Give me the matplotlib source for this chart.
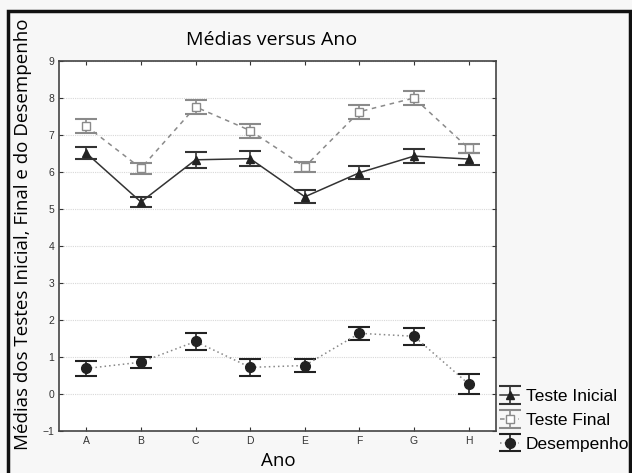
import matplotlib
matplotlib.use("Agg")
import matplotlib.pyplot as plt
from matplotlib.patches import Rectangle

# data
anos = ["A", "B", "C", "D", "E", "F", "G", "H"]
inicial = [6.51, 5.19, 6.33, 6.36, 5.33, 5.98, 6.43, 6.35]
inicial_err = [0.17, 0.14, 0.22, 0.20, 0.17, 0.17, 0.20, 0.15]
final = [7.24, 6.10, 7.76, 7.12, 6.14, 7.63, 8.00, 6.64]
final_err = [0.18, 0.15, 0.19, 0.19, 0.14, 0.19, 0.18, 0.13]
desemp = [0.69, 0.86, 1.42, 0.72, 0.77, 1.64, 1.56, 0.27]
desemp_err = [0.19, 0.15, 0.22, 0.23, 0.17, 0.18, 0.23, 0.27]

fig = plt.figure(figsize=(6.32, 4.73), dpi=100, facecolor="#f7f7f7")
ax = fig.add_axes([59 / 632, 1 - 431 / 473, (496 - 59) / 632, (431 - 61) / 473])
ax.set_facecolor("white")

x = list(range(len(anos)))

ax.errorbar(x, inicial, yerr=inicial_err, color="#333333", ecolor="#333333",
            linestyle="-", linewidth=1.1, marker="^", markersize=6, mfc="#222222",
            mec="#222222", capsize=8, capthick=1.5, elinewidth=1.2, label="Teste Inicial")
ax.errorbar(x, final, yerr=final_err, color="#8a8a8a", ecolor="#8a8a8a",
            linestyle=(0, (3, 3)), linewidth=1.1, marker="s", markersize=5.5, mfc="white",
            mec="#8a8a8a", capsize=8, capthick=1.5, elinewidth=1.2, label="Teste Final")
ax.errorbar(x, desemp, yerr=desemp_err, color="#888888", ecolor="#222222",
            linestyle=(0, (1, 2)), linewidth=1.1, marker="o", markersize=7, mfc="#222222",
            mec="#222222", capsize=8, capthick=1.5, elinewidth=1.2, label="Desempenho")

ax.set_xlim(-0.5, 7.5)
ax.set_ylim(-1, 9)
ax.set_xticks(x)
ax.set_xticklabels(anos)
ax.set_yticks(range(-1, 10))
ax.tick_params(direction="in", length=3, labelsize=7.5, colors="#333333",
               top=True, right=True, labelcolor="#333333")
for lab in ax.get_xticklabels() + ax.get_yticklabels():
    lab.set_fontfamily("Liberation Sans")
ax.grid(axis="y", color="#d8d8d8", linestyle=(0, (1, 1)), linewidth=0.8)
for s in ax.spines.values():
    s.set_color("#444444")
    s.set_linewidth(1.2)

fig.text(272 / 632, 1 - 40 / 473, "Médias versus Ano", ha="center", va="center",
         fontsize=14, family="Open Sans")
fig.text(278 / 632, 1 - 461 / 473, "Ano", ha="center", va="center",
         fontsize=13.5, family="Open Sans")
fig.text(23 / 632, 1 - 234 / 473, "Médias dos Testes Inicial, Final e do Desempenho",
         ha="center", va="center", rotation=90, fontsize=13.5, family="Open Sans")

leg = ax.legend(loc="upper left", bbox_to_anchor=(500 / 632, 1 - 389 / 473),
                bbox_transform=fig.transFigure, frameon=False,
                prop={"family": "Liberation Sans", "size": 12.5}, handlelength=1.1,
                handletextpad=0.4, labelspacing=0.5, borderaxespad=0, borderpad=0)

# black frame around the whole picture
fig.patches.append(Rectangle((8 / 632, -0.01), (630 - 8) / 632, 1.01 - 11 / 473,
                             transform=fig.transFigure, fill=False,
                             edgecolor="#111111", linewidth=2.5))

fig.savefig("out.png", dpi=100, facecolor=fig.get_facecolor())
